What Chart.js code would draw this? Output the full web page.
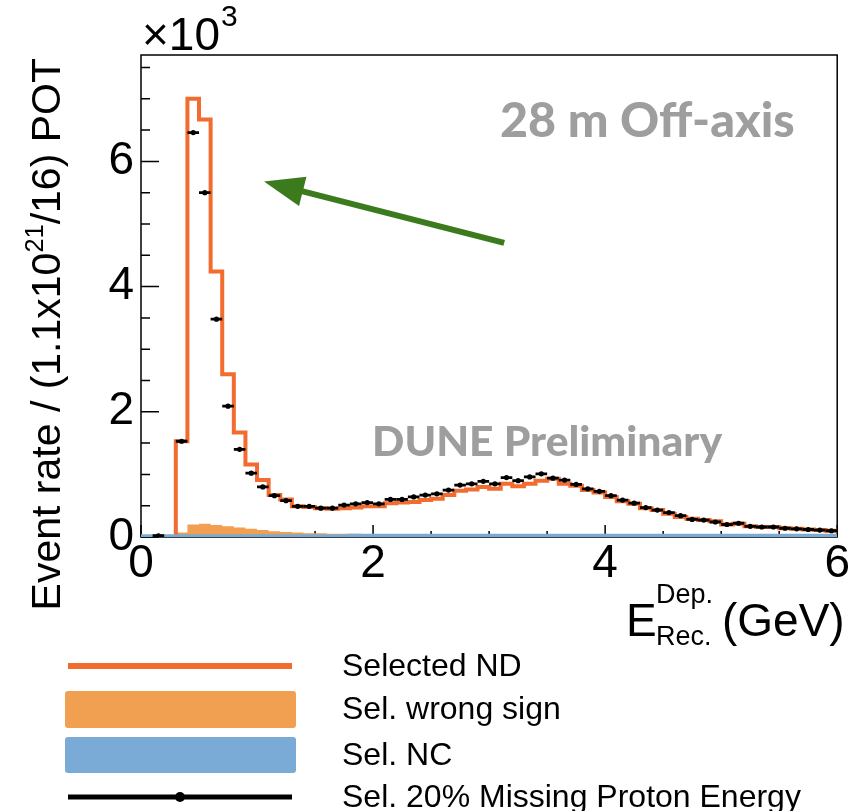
<!DOCTYPE html>
<html>
<head>
<meta charset="utf-8">
<script src="https://cdn.jsdelivr.net/npm/chart.js@4.4.0/dist/chart.umd.min.js"></script>
<style>
  html, body { margin: 0; padding: 0; background: #fff; }
  #wrap { width: 850px; height: 811px; }
</style>
</head>
<body>
<div id="wrap"><canvas id="c" width="850" height="811"></canvas></div>
<script>
// bin low edges (GeV), bin width 0.1
const binLow = [
  0.0, 0.1, 0.2, 0.3, 0.4, 0.5, 0.6, 0.7, 0.8, 0.9,
  1.0, 1.1, 1.2, 1.3, 1.4, 1.5, 1.6, 1.7, 1.8, 1.9,
  2.0, 2.1, 2.2, 2.3, 2.4, 2.5, 2.6, 2.7, 2.8, 2.9,
  3.0, 3.1, 3.2, 3.3, 3.4, 3.5, 3.6, 3.7, 3.8, 3.9,
  4.0, 4.1, 4.2, 4.3, 4.4, 4.5, 4.6, 4.7, 4.8, 4.9,
  5.0, 5.1, 5.2, 5.3, 5.4, 5.5, 5.6, 5.7, 5.8, 5.9
]
const binWidth = 0.1

// event rates, x10^3
const selectedND = [
  0, 0, 0, 1.53, 7.00, 6.67, 4.24, 2.60, 1.67, 1.16,
  0.91, 0.67, 0.60, 0.49, 0.48, 0.46, 0.45, 0.46, 0.47, 0.49,
  0.49, 0.54, 0.55, 0.56, 0.59, 0.61, 0.67, 0.74, 0.76, 0.80,
  0.77, 0.85, 0.81, 0.85, 0.90, 0.93, 0.85, 0.82, 0.75, 0.71,
  0.64, 0.57, 0.53, 0.46, 0.43, 0.37, 0.32, 0.29, 0.27, 0.25,
  0.20, 0.21, 0.17, 0.16, 0.16, 0.14, 0.13, 0.12, 0.11, 0.10
]
const wrongSign = [
  0, 0, 0, 0.07, 0.20, 0.21, 0.19, 0.17, 0.15, 0.13,
  0.11, 0.09, 0.08, 0.07, 0.06, 0.06, 0.05, 0.05, 0.05, 0.04,
  0.04, 0.04, 0.04, 0.04, 0.04, 0.04, 0.04, 0.04, 0.04, 0.04,
  0.04, 0.04, 0.04, 0.04, 0.04, 0.04, 0.04, 0.04, 0.04, 0.04,
  0.04, 0.03, 0.03, 0.03, 0.03, 0.03, 0.03, 0.03, 0.02, 0.02,
  0.02, 0.02, 0.02, 0.02, 0.02, 0.02, 0.02, 0.02, 0.02, 0.02
]
const selNC = [
  0.01, 0.01, 0.01, 0.01, 0.01, 0.01, 0.01, 0.01, 0.01, 0.01,
  0.01, 0.01, 0.01, 0.01, 0.01, 0.01, 0.01, 0.01, 0.02, 0.02,
  0.02, 0.02, 0.02, 0.02, 0.02, 0.02, 0.02, 0.02, 0.02, 0.02,
  0.02, 0.02, 0.02, 0.02, 0.02, 0.02, 0.02, 0.02, 0.02, 0.02,
  0.02, 0.02, 0.02, 0.02, 0.02, 0.02, 0.02, 0.02, 0.02, 0.02,
  0.02, 0.02, 0.02, 0.02, 0.02, 0.02, 0.02, 0.02, 0.02, 0.02
]
const missingProton = [
  null, 0.02, null, 1.53, 6.46, 5.50, 3.48, 2.09, 1.40, 1.02,
  0.80, 0.66, 0.58, 0.49, 0.49, 0.46, 0.46, 0.51, 0.53, 0.55,
  0.53, 0.60, 0.60, 0.64, 0.67, 0.69, 0.75, 0.83, 0.85, 0.89,
  0.85, 0.95, 0.90, 0.96, 1.01, 0.94, 0.91, 0.84, 0.77, 0.73,
  0.66, 0.59, 0.54, 0.47, 0.43, 0.39, 0.34, 0.28, 0.27, 0.24,
  0.20, 0.22, 0.17, 0.16, 0.16, 0.14, 0.13, 0.12, 0.11, 0.10
]

const xTicks = [0, 0.5, 1, 1.5, 2, 2.5, 3, 3.5, 4, 4.5, 5, 5.5, 6]
const xMajor = [0, 2, 4, 6]
const yTicks = [0, 0.5, 1, 1.5, 2, 2.5, 3, 3.5, 4, 4.5, 5, 5.5, 6, 6.5, 7, 7.5]
const yMajor = [0, 2, 4, 6]

const legendLabels = ["Selected ND", "Sel. wrong sign", "Sel. NC", "Sel. 20% Missing Proton Energy"]
// annotation arrow, in data units (GeV, x10^3)
const arrowFrom = { x: 3.13, y: 4.70 }
const arrowTo = { x: 1.06, y: 5.68 }

const COLORS = {
  nd: "#f26b2f",
  wrong: "#f0a050",
  nc: "#7aaad6",
  missing: "#000000",
  arrow: "#3c7a1e",
  label: "#9e9e9e",
}
const FONT = "'Liberation Sans', Arial, sans-serif"

function histPoints(values) {
  const pts = binLow.map((x, i) => ({ x: x, y: values[i] }))
  pts.push({ x: binLow[binLow.length - 1] + binWidth, y: values[values.length - 1] })
  return pts
}
const missingPts = binLow.map((x, i) => ({ x: x + binWidth / 2, y: missingProton[i] }))

function fitText(ctx, text, x, y, width, weight, family) {
  ctx.font = weight + " 100px " + family
  const size = 100 * width / ctx.measureText(text).width
  ctx.font = weight + " " + size.toFixed(1) + "px " + family
  ctx.fillText(text, x, y)
}

const rootStyle = {
  id: "rootStyle",
  beforeDatasetsDraw(chart) {
    const { ctx, chartArea: a, scales: { x, y } } = chart
    ctx.save()
    ctx.strokeStyle = "#000"
    ctx.lineWidth = 1.5
    ctx.strokeRect(a.left, a.top, a.right - a.left, a.bottom - a.top)
    ctx.beginPath()
    xTicks.forEach((v) => {
      const px = x.getPixelForValue(v)
      const len = xMajor.includes(v) ? 12 : 6
      ctx.moveTo(px, a.bottom)
      ctx.lineTo(px, a.bottom - len)
    })
    yTicks.forEach((v) => {
      const py = y.getPixelForValue(v)
      const len = yMajor.includes(v) ? 18 : 9
      ctx.moveTo(a.left, py)
      ctx.lineTo(a.left + len, py)
    })
    ctx.stroke()
    ctx.restore()
  },
  afterDraw(chart) {
    const { ctx, scales: { x, y } } = chart
    ctx.save()

    // green arrow
    const x0 = x.getPixelForValue(arrowFrom.x), y0 = y.getPixelForValue(arrowFrom.y)
    const x1 = x.getPixelForValue(arrowTo.x), y1 = y.getPixelForValue(arrowTo.y)
    const len = Math.hypot(x1 - x0, y1 - y0)
    const ux = (x1 - x0) / len, uy = (y1 - y0) / len
    const headL = 40, headW = 15
    const bx = x1 - ux * headL, by = y1 - uy * headL
    ctx.strokeStyle = COLORS.arrow
    ctx.fillStyle = COLORS.arrow
    ctx.lineWidth = 6
    ctx.beginPath()
    ctx.moveTo(x0, y0)
    ctx.lineTo(bx + ux * 2, by + uy * 2)
    ctx.stroke()
    ctx.beginPath()
    ctx.moveTo(x1, y1)
    ctx.lineTo(bx - uy * headW, by + ux * headW)
    ctx.lineTo(bx + uy * headW, by - ux * headW)
    ctx.closePath()
    ctx.fill()

    // grey labels
    ctx.fillStyle = COLORS.label
    ctx.textBaseline = "alphabetic"
    ctx.textAlign = "left"
    fitText(ctx, "28 m Off-axis", 500, 137, 295, "900", "Lato, 'Open Sans', sans-serif")
    fitText(ctx, "DUNE Preliminary", 372, 456, 350, "900", "Lato, 'Open Sans', sans-serif")

    // x10^3
    ctx.fillStyle = "#000"
    ctx.font = "46px " + FONT
    ctx.fillText("\u00d710", 142, 50)
    let w = ctx.measureText("\u00d710").width
    ctx.font = "30px " + FONT
    ctx.fillText("3", 142 + w + 1, 26)

    // y title, rotated, ends at top
    const ysz = 41
    const parts = [
      ["Event rate / (1.1x10", ysz, 0],
      ["21", ysz * 0.62, -ysz * 0.42],
      ["/16) POT", ysz, 0],
    ]
    let total = 0
    parts.forEach((p) => { ctx.font = p[1] + "px " + FONT; total += ctx.measureText(p[0]).width })
    ctx.translate(60, 58 + total)
    ctx.rotate(-Math.PI / 2)
    let cx = 0
    parts.forEach((p) => {
      ctx.font = p[1] + "px " + FONT
      ctx.fillText(p[0], cx, p[2])
      cx += ctx.measureText(p[0]).width
    })
    ctx.setTransform(1, 0, 0, 1, 0, 0)

    // x title
    ctx.font = "46px " + FONT
    ctx.fillText("E", 626, 636)
    ctx.fillText("(GeV)", 722, 636)
    ctx.font = "27px " + FONT
    ctx.fillText("Dep.", 656, 603)
    ctx.save()
    ctx.beginPath()
    ctx.rect(600, 600, 250, 45)
    ctx.clip()
    ctx.font = "27px " + FONT
    ctx.fillText("Rec.", 656, 645)
    ctx.restore()

    // legend
    const rows = [666, 709, 755, 797]
    ctx.fillStyle = COLORS.nd
    ctx.fillRect(68, rows[0] - 3, 224, 6)
    ctx.fillStyle = COLORS.wrong
    ctx.beginPath(); ctx.roundRect(65, rows[1] - 18, 231, 37, 3); ctx.fill()
    ctx.fillStyle = COLORS.nc
    ctx.beginPath(); ctx.roundRect(65, rows[2] - 18, 231, 36, 3); ctx.fill()
    ctx.fillStyle = "#000"
    ctx.fillRect(68, rows[3] - 2.5, 224, 5)
    ctx.beginPath(); ctx.arc(180, rows[3], 5, 0, Math.PI * 2); ctx.fill()
    ctx.font = "32px " + FONT
    ctx.textBaseline = "middle"
    legendLabels.forEach((t, i) => ctx.fillText(t, 342, rows[i] + 1))

    ctx.restore()
  },
}

const data = {
  datasets: [
    {
      label: "Sel. 20% Missing Proton Energy bars",
      data: missingPts,
      showLine: false,
      pointStyle: "line",
      pointRadius: 5.8,
      borderColor: COLORS.missing,
      borderWidth: 2.8,
      order: 0,
    },
    {
      label: "Sel. 20% Missing Proton Energy",
      data: missingPts,
      showLine: false,
      pointStyle: "circle",
      pointRadius: 2.6,
      backgroundColor: COLORS.missing,
      borderWidth: 0,
      order: 0,
    },
    {
      label: "Sel. NC",
      data: histPoints(selNC),
      stepped: "before",
      borderColor: COLORS.nc,
      borderWidth: 4,
      pointRadius: 0,
      fill: false,
      order: 1,
    },
    {
      label: "Selected ND",
      data: histPoints(selectedND),
      stepped: "before",
      borderColor: COLORS.nd,
      borderWidth: 4,
      pointRadius: 0,
      fill: false,
      order: 2,
    },
    {
      label: "Sel. wrong sign",
      data: histPoints(wrongSign),
      stepped: "before",
      borderColor: "rgba(0,0,0,0)",
      backgroundColor: COLORS.wrong,
      borderWidth: 0,
      pointRadius: 0,
      fill: "origin",
      order: 3,
    },
  ],
}

const config = {
  type: "line",
  data: data,
  options: {
    responsive: false,
    animation: false,
    events: [],
    layout: { padding: { top: 55, right: 12, bottom: 0, left: 0 } },
    scales: {
      x: {
        type: "linear",
        min: 0,
        max: 6,
        afterFit: (s) => { s.height = 274 },
        grid: { display: false, drawTicks: false },
        border: { display: false },
        ticks: {
          stepSize: 2,
          includeBounds: false,
          padding: 0,
          color: "#000",
          font: { family: FONT, size: 46 },
          maxRotation: 0,
          autoSkip: false,
        },
      },
      y: {
        min: 0,
        max: 7.7,
        afterFit: (s) => { s.width = 141 },
        grid: { display: false, drawTicks: false },
        border: { display: false },
        ticks: {
          stepSize: 2,
          includeBounds: false,
          padding: 7,
          color: "#000",
          font: { family: FONT, size: 46 },
        },
      },
    },
    plugins: {
      legend: { display: false },
      tooltip: { enabled: false },
    },
  },
  plugins: [rootStyle],
}

new Chart(document.getElementById("c"), config)
</script>
</body>
</html>
